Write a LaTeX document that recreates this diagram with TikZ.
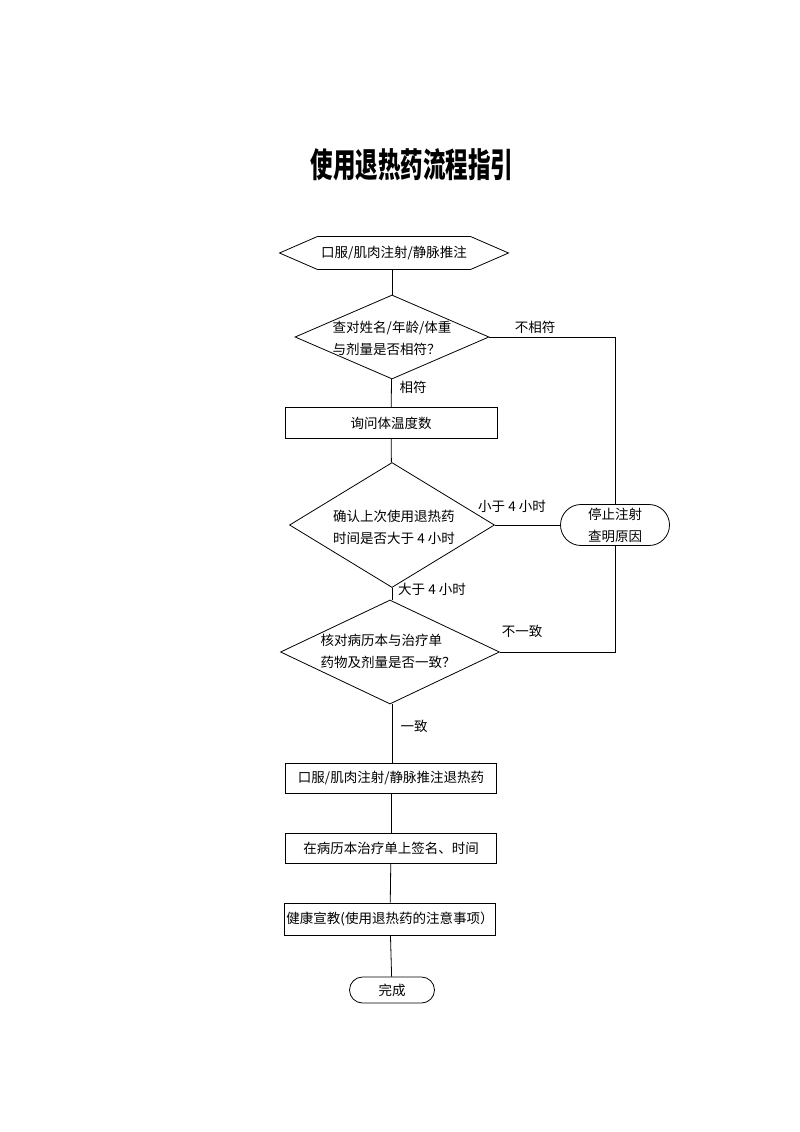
\documentclass[tikz,border=0pt]{standalone}
\usepackage{fontspec}
\setmainfont{Noto Sans CJK SC}
\usetikzlibrary{
    shapes.geometric,
    shapes.misc,
    shapes.symbols,
}

\tikzset{
  box/.style={draw,rectangle,inner sep=0pt,minimum width=212pt,minimum height=31pt},
  decision/.style={draw,diamond,inner sep=0pt},
  terminal/.style={draw,rounded rectangle,inner sep=0pt},
  txt/.style={align=left,inner sep=0pt},
  lab/.style={inner sep=0pt},
}

\begin{document}
\begin{tikzpicture}[x=1pt,y=-1pt,line width=0.8pt,font=\fontsize{13.5}{22}\selectfont]
  \useasboundingbox (0,0) rectangle (800,1132);

  \node[font=\fontsize{22.5}{26}\selectfont\bfseries,yscale=1.5] (title) at (412,165) {使用退热药流程指引};

  \node[draw,signal,signal to=west and east,signal pointer angle=47,
        inner sep=0pt,minimum width=229pt,minimum height=33pt] (start) at (394,253) {口服/肌肉注射/静脉推注};

  \node[decision,minimum width=194pt,minimum height=84pt] (d1) at (392,337) {};
  \node[txt] (d1t) at (392,338) {查对姓名/年龄/体重\\与剂量是否相符？};

  \node[box] (ask) at (391,423) {询问体温度数};

  \node[decision,minimum width=205pt,minimum height=125pt] (d2) at (392,525) {};
  \node[txt] (d2t) at (394,527) {确认上次使用退热药\\时间是否大于 4 小时};

  \node[terminal,minimum width=109pt,minimum height=41pt,align=center] (stop) at (615,525) {停止注射\\查明原因};

  \node[decision,minimum width=219pt,minimum height=104pt] (d3) at (390,652) {};
  \node[txt] (d3t) at (388,651) {核对病历本与治疗单\\药物及剂量是否一致？};

  \node[box,minimum width=211pt,minimum height=30pt] (give) at (391,778) {口服/肌肉注射/静脉推注退热药};
  \node[box,minimum width=211pt,minimum height=30pt] (sign) at (391,848) {在病历本治疗单上签名、时间};
  \node[box,minimum width=211pt,minimum height=32pt] (edu) at (390,919) {健康宣教(使用退热药的注意事项）};

  \node[terminal,minimum width=85pt,minimum height=26pt] (done) at (392,990) {完成};

  % labels
  \node[lab] (l1) at (535,327) {不相符};
  \node[lab] (l2) at (413,387) {相符};
  \node[lab] (l3) at (512,506) {小于 4 小时};
  \node[lab] (l4) at (432,589) {大于 4 小时};
  \node[lab] (l5) at (522,631) {不一致};
  \node[lab] (l6) at (414,726) {一致};

  % connectors
  \draw (start.south -| d1.north) -- (d1);
  \draw (d1) -- (ask);
  \draw (ask) -- (d2);
  \draw (d2.south) -- (d2.south |- d3.north);
  \draw (d2.south |- d3.south) -- (d2.south |- give.north);
  \draw (give) -- (sign);
  \draw (sign) -- (edu);
  \draw (edu) -- (done);
  \draw (d1.east) -| (stop);
  \draw (d2.east) -- (stop.west);
  \draw (d3.east) -| (stop);
\end{tikzpicture}
\end{document}
